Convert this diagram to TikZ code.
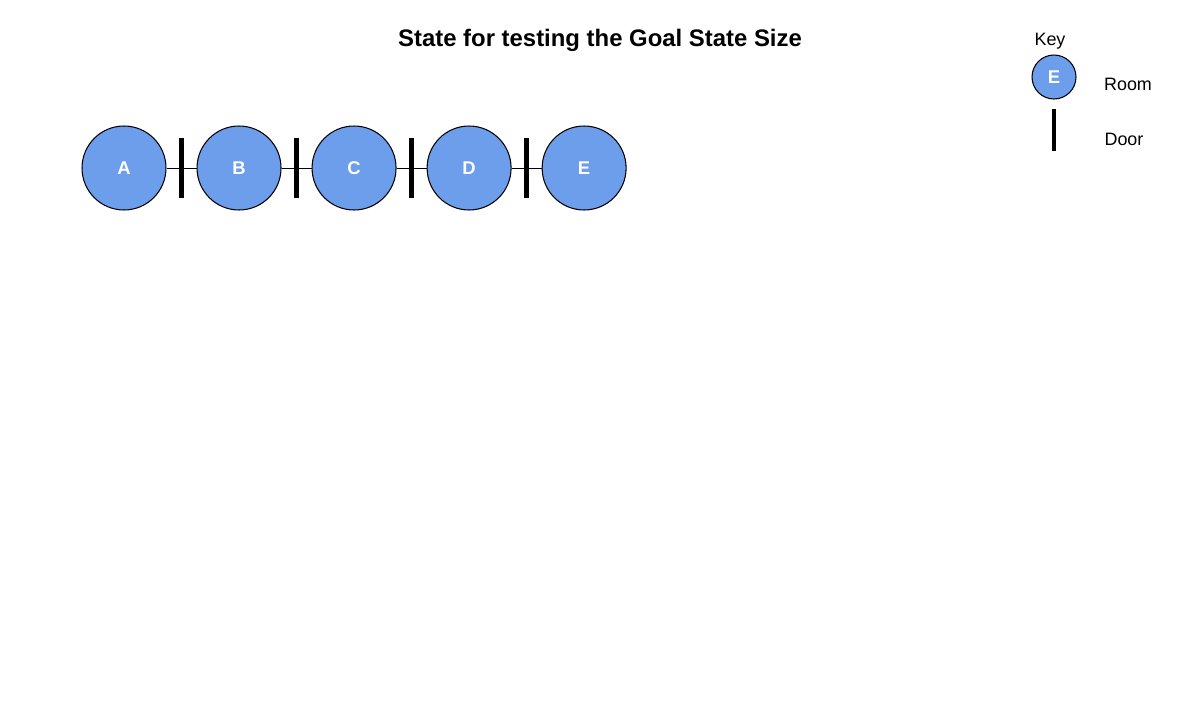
\documentclass[tikz,border=0pt]{standalone}
\usepackage{fontspec}
\setmainfont{Liberation Sans}
\usetikzlibrary{positioning}
\definecolor{roomblue}{HTML}{6D9EEB}
\tikzset{
  room/.style={circle,draw=black,line width=0.6pt,fill=roomblue,minimum size=1.68cm,
    inner sep=0pt,text=white,font=\fontsize{10.5}{12}\selectfont\bfseries},
  door/.style={line width=2.5pt},
  label text/.style={font=\fontsize{10.2}{12}\selectfont}
}

\begin{document}
\begin{tikzpicture}[x=0.02cm,y=-0.02cm]
    \useasboundingbox (0,0) rectangle (1186,717);
    \node[font=\fontsize{13.6}{16}\selectfont\bfseries] (title) at (600,40) {State for testing the Goal State Size};
    \node[room] (A) at (124,168) {A};
    \node[room,right=0.6cm of A] (B) {B};
    \node[room,right=0.6cm of B] (C) {C};
    \node[room,right=0.6cm of C] (D) {D};
    \node[room,right=0.6cm of D] (E) {E};
    \foreach \a/\b in {A/B,B/C,C/D,D/E} {
      \draw[line width=0.5pt] (\a) -- (\b) coordinate[pos=0.5] (door\a\b);
      \draw[door] ([yshift=0.6cm]door\a\b) -- ([yshift=-0.6cm]door\a\b);
    }
    % key
    \node[label text] (key) at (1050,41) {Key};
    \node[room,minimum size=0.88cm] (keyroom) at (1054,77) {E};
    \node[label text] (roomtext) at (1128,84) {Room};
    \coordinate (keydoortop) at (1054,109);
    \coordinate (keydoorbot) at (1054,151);
    \draw[door] (keydoortop) -- (keydoorbot);
    \node[label text] (doortext) at (1124,139) {Door};
  \end{tikzpicture}
\end{document}
